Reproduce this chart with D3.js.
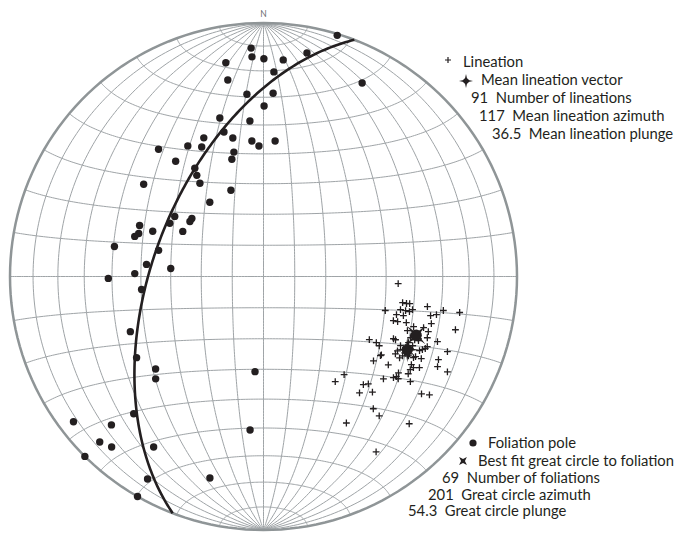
<!DOCTYPE html>
<html><head><meta charset="utf-8">
<script src="https://cdn.jsdelivr.net/npm/d3@7"></script>
<style>
html,body{margin:0;padding:0;background:#fff;}
svg{display:block;}
text{font-family:Lato,"Open Sans",sans-serif;fill:#231f20;}
</style></head><body>
<svg id="chart" width="679" height="533"></svg>
<script>
// Poles to foliation: trend and plunge in degrees (lower hemisphere)
const foliationTrend = [17.0,356.9,350.0,357.0,0.1,5.2,11.0,2.9,349.7,354.8,3.0,0.2,344.6,355.0,344.7,336.7,347.5,355.1,358.0,4.9,
  320.5,329.9,334.5,346.6,344.9,322.7,327.6,326.6,307.6,325.7,339.3,324.1,304.1,309.0,306.8,299.6,292.4,289.0,287.3,292.2,
  299.2,281.4,284.0,275.9,274.9,27.0,269.3,271.3,263.9,247.5,237.4,229.4,226.5,185.1,223.4,232.6,225.7,224.7,221.7,212.8,
  185.0,224.8,209.8,194.9,209.8];
const foliationPlunge = [0.6,10.7,15.5,14.3,15.2,15.3,11.1,20.3,22.3,28.6,28.4,33.2,35.4,38.4,40.6,40.2,43.4,45.4,47.3,45.4,
  35.2,40.2,42.8,48.2,50.4,42.3,48.1,50.5,40.1,53.3,60.2,60.4,55.2,60.2,60.3,55.0,46.1,46.8,45.8,51.0,
  60.1,39.8,54.9,51.7,59.9,15.4,38.7,47.9,50.0,42.6,40.3,43.3,41.0,59.1,26.4,6.3,17.3,9.0,10.9,21.1,
  39.1,0.0,8.8,18.9,0.0];

// Lineations: trend and plunge in degrees
const lineationTrend = [93.0,100.6,100.7,100.5,105.6,103.6,103.5,103.5,102.5,100.4,100.7,100.4,106.0,105.6,103.2,102.4,108.8,108.6,107.9,105.7,
  108.5,107.7,105.5,110.6,108.5,120.8,120.4,120.9,115.6,115.6,112.6,114.5,110.5,110.5,115.4,114.7,114.0,112.2,123.6,120.4,
  120.9,117.8,117.5,127.5,115.4,125.3,120.8,122.4,121.3,120.3,117.4,117.4,125.5,123.9,127.0,127.9,130.5,127.2,125.6,140.6,
  135.7,137.3,140.5,136.7,126.6,125.5,140.3,140.3,150.5,135.3,147.3,145.7,114.9,116.6,112.5,116.8,110.9,119.7,119.0,113.2,
  124.1,118.4,117.4,117.9,111.6,111.9,112.7,118.4,116.2,110.4,118.7];
const lineationPlunge = [45.8,43.5,42.1,41.0,48.7,43.7,41.9,40.5,39.6,34.6,28.6,22.4,44.6,42.2,32.8,30.8,45.0,43.5,40.5,31.8,
  37.6,34.1,22.5,39.2,32.0,49.8,47.2,45.8,42.6,41.8,37.2,37.2,31.6,27.6,32.4,31.6,30.8,22.7,43.5,39.5,
  37.5,32.7,30.5,44.5,24.6,39.5,32.6,32.0,31.4,29.5,23.7,19.4,34.9,31.8,34.7,35.3,37.8,33.7,29.5,48.5,
  40.5,41.5,40.2,37.4,23.4,20.7,32.7,29.3,34.0,19.4,18.9,48.4,35.4,37.4,34.2,39.3,36.7,36.9,39.4,30.4,
  43.6,33.2,36.5,35.1,35.7,34.5,35.6,36.8,35.6,35.4,35.1];

// Summary statistics shown in the legends
const lineationStats = [91, 117, 36.5];          // count, mean azimuth, mean plunge
const lineationStatLabels = ["Number of lineations", "Mean lineation azimuth", "Mean lineation plunge"];
const foliationStats = [69, 201, 54.3];          // count, great circle azimuth (strike), plunge (dip)
const foliationStatLabels = ["Number of foliations", "Great circle azimuth", "Great circle plunge"];

const svg = d3.select("#chart");
const cx = 263.5, cy = 276.5, R = 253.5;
const ink = "#231f20";

// Schmidt (equal-area) net in transverse aspect
const net = d3.geoAzimuthalEqualArea()
  .rotate([0, 0]).scale(R / Math.SQRT2).translate([cx, cy]).clipAngle(90).precision(0.2);
// Data projection: lower hemisphere, centre = vertical, north up
const stereo = d3.geoAzimuthalEqualArea()
  .rotate([0, -90]).scale(R / Math.SQRT2).translate([cx, cy]).clipAngle(90).precision(0.2);
const toGeo = (trend, plunge) => [180 - trend, plunge];

const netPath = d3.geoPath(net);
const dataPath = d3.geoPath(stereo);

// graticule: meridians and small circles every 10 degrees
const meridians = d3.range(-80, 90, 10).map(lon =>
  d3.range(-90, 90.5, 1).map(lat => [lon, Math.max(-89.999, Math.min(89.999, lat))]));
const parallels = d3.range(-80, 90, 10).map(lat =>
  d3.range(-90, 90.5, 1).map(lon => [lon, lat]));

svg.append("path")
  .datum({type: "MultiLineString", coordinates: meridians.concat(parallels)})
  .attr("d", netPath).attr("fill", "none")
  .attr("stroke", "#9fa4a7").attr("stroke-width", 1);

svg.append("path")
  .datum({type: "Sphere"})
  .attr("d", netPath).attr("fill", "none")
  .attr("stroke", "#8f9597").attr("stroke-width", 2.5);

svg.append("text").attr("x", cx).attr("y", 17)
  .attr("text-anchor", "middle").attr("font-size", 8.5)
  .style("fill", "#6d6e71").text("N");

// best-fit great circle to foliation (right-hand-rule strike / dip)
const gcStrike = foliationStats[1], gcDip = foliationStats[2];
const gcPole = toGeo((gcStrike - 90 + 360) % 360, 90 - gcDip);
const ring = d3.geoCircle().center(gcPole).radius(90).precision(1)().coordinates[0];
svg.append("path")
  .datum({type: "LineString", coordinates: ring})
  .attr("d", dataPath).attr("fill", "none")
  .attr("stroke", ink).attr("stroke-width", 2.6);

// foliation poles
svg.append("g").selectAll("circle")
  .data(d3.range(foliationTrend.length))
  .join("circle")
  .attr("cx", i => stereo(toGeo(foliationTrend[i], foliationPlunge[i]))[0])
  .attr("cy", i => stereo(toGeo(foliationTrend[i], foliationPlunge[i]))[1])
  .attr("r", 3.7).attr("fill", ink);

// lineations
const crossPath = s => `M${-s},0H${s}M0,${-s}V${s}`;
svg.append("g").selectAll("path")
  .data(d3.range(lineationTrend.length))
  .join("path")
  .attr("transform", i => {
    const p = stereo(toGeo(lineationTrend[i], lineationPlunge[i]));
    return `translate(${p[0]},${p[1]})`;
  })
  .attr("d", crossPath(3.4))
  .attr("stroke", ink).attr("stroke-width", 1.3).attr("fill", "none");

// tapered four-point star
function star(s, w) {
  return `M0,${-s}L${w},${-w}L${s},0L${w},${w}L0,${s}L${-w},${w}L${-s},0L${-w},${-w}Z`;
}

// pole to the best-fit great circle
{
  const p = stereo(gcPole);
  const g = svg.append("g").attr("transform", `translate(${p[0]},${p[1]})`);
  g.append("path").attr("d", star(13, 1.6)).attr("transform", "rotate(45)").attr("fill", ink);
  g.append("circle").attr("r", 5.6).attr("fill", ink);
}
// mean lineation vector
{
  const p = stereo(toGeo(lineationStats[1], lineationStats[2]));
  const g = svg.append("g").attr("transform", `translate(${p[0]},${p[1]})`);
  g.append("path").attr("d", star(12.5, 1.6)).attr("fill", ink);
  g.append("circle").attr("r", 5.6).attr("fill", ink);
}

// lineation legend
const fs = 14.8;
const legTop = svg.append("g");
legTop.append("path").attr("transform", "translate(448,60)")
  .attr("d", crossPath(3)).attr("stroke", ink).attr("stroke-width", 1.2);
legTop.append("text").attr("x", 463).attr("y", 67).attr("font-size", fs).text("Lineation");
{
  const g = legTop.append("g").attr("transform", "translate(466,81)");
  g.append("path").attr("d", star(7, 1.3)).attr("fill", ink);
  g.append("circle").attr("r", 2.8).attr("fill", ink);
}
legTop.append("text").attr("x", 481).attr("y", 85).attr("font-size", fs).text("Mean lineation vector");
const topX = [471, 479, 492];
lineationStats.forEach((v, i) => {
  legTop.append("text").attr("x", topX[i]).attr("y", 103 + i * 18).attr("font-size", fs)
    .style("white-space", "pre").text(`${v}  ${lineationStatLabels[i]}`);
});

// foliation legend
const legBot = svg.append("g");
legBot.append("circle").attr("cx", 473).attr("cy", 443).attr("r", 3.6).attr("fill", ink);
legBot.append("text").attr("x", 488).attr("y", 448).attr("font-size", fs).text("Foliation pole");
{
  const g = legBot.append("g").attr("transform", "translate(463,461)");
  g.append("path").attr("d", star(5.5, 1.4)).attr("transform", "rotate(45)").attr("fill", ink);
  g.append("rect").attr("x", -2).attr("y", -2).attr("width", 4).attr("height", 4).attr("fill", ink);
}
legBot.append("text").attr("x", 478).attr("y", 466).attr("font-size", fs).text("Best fit great circle to foliation");
const botX = [442, 428, 408];
foliationStats.forEach((v, i) => {
  legBot.append("text").attr("x", botX[i]).attr("y", 483 + i * 16.5).attr("font-size", fs)
    .style("white-space", "pre").text(`${v}  ${foliationStatLabels[i]}`);
});
</script>
</body></html>
